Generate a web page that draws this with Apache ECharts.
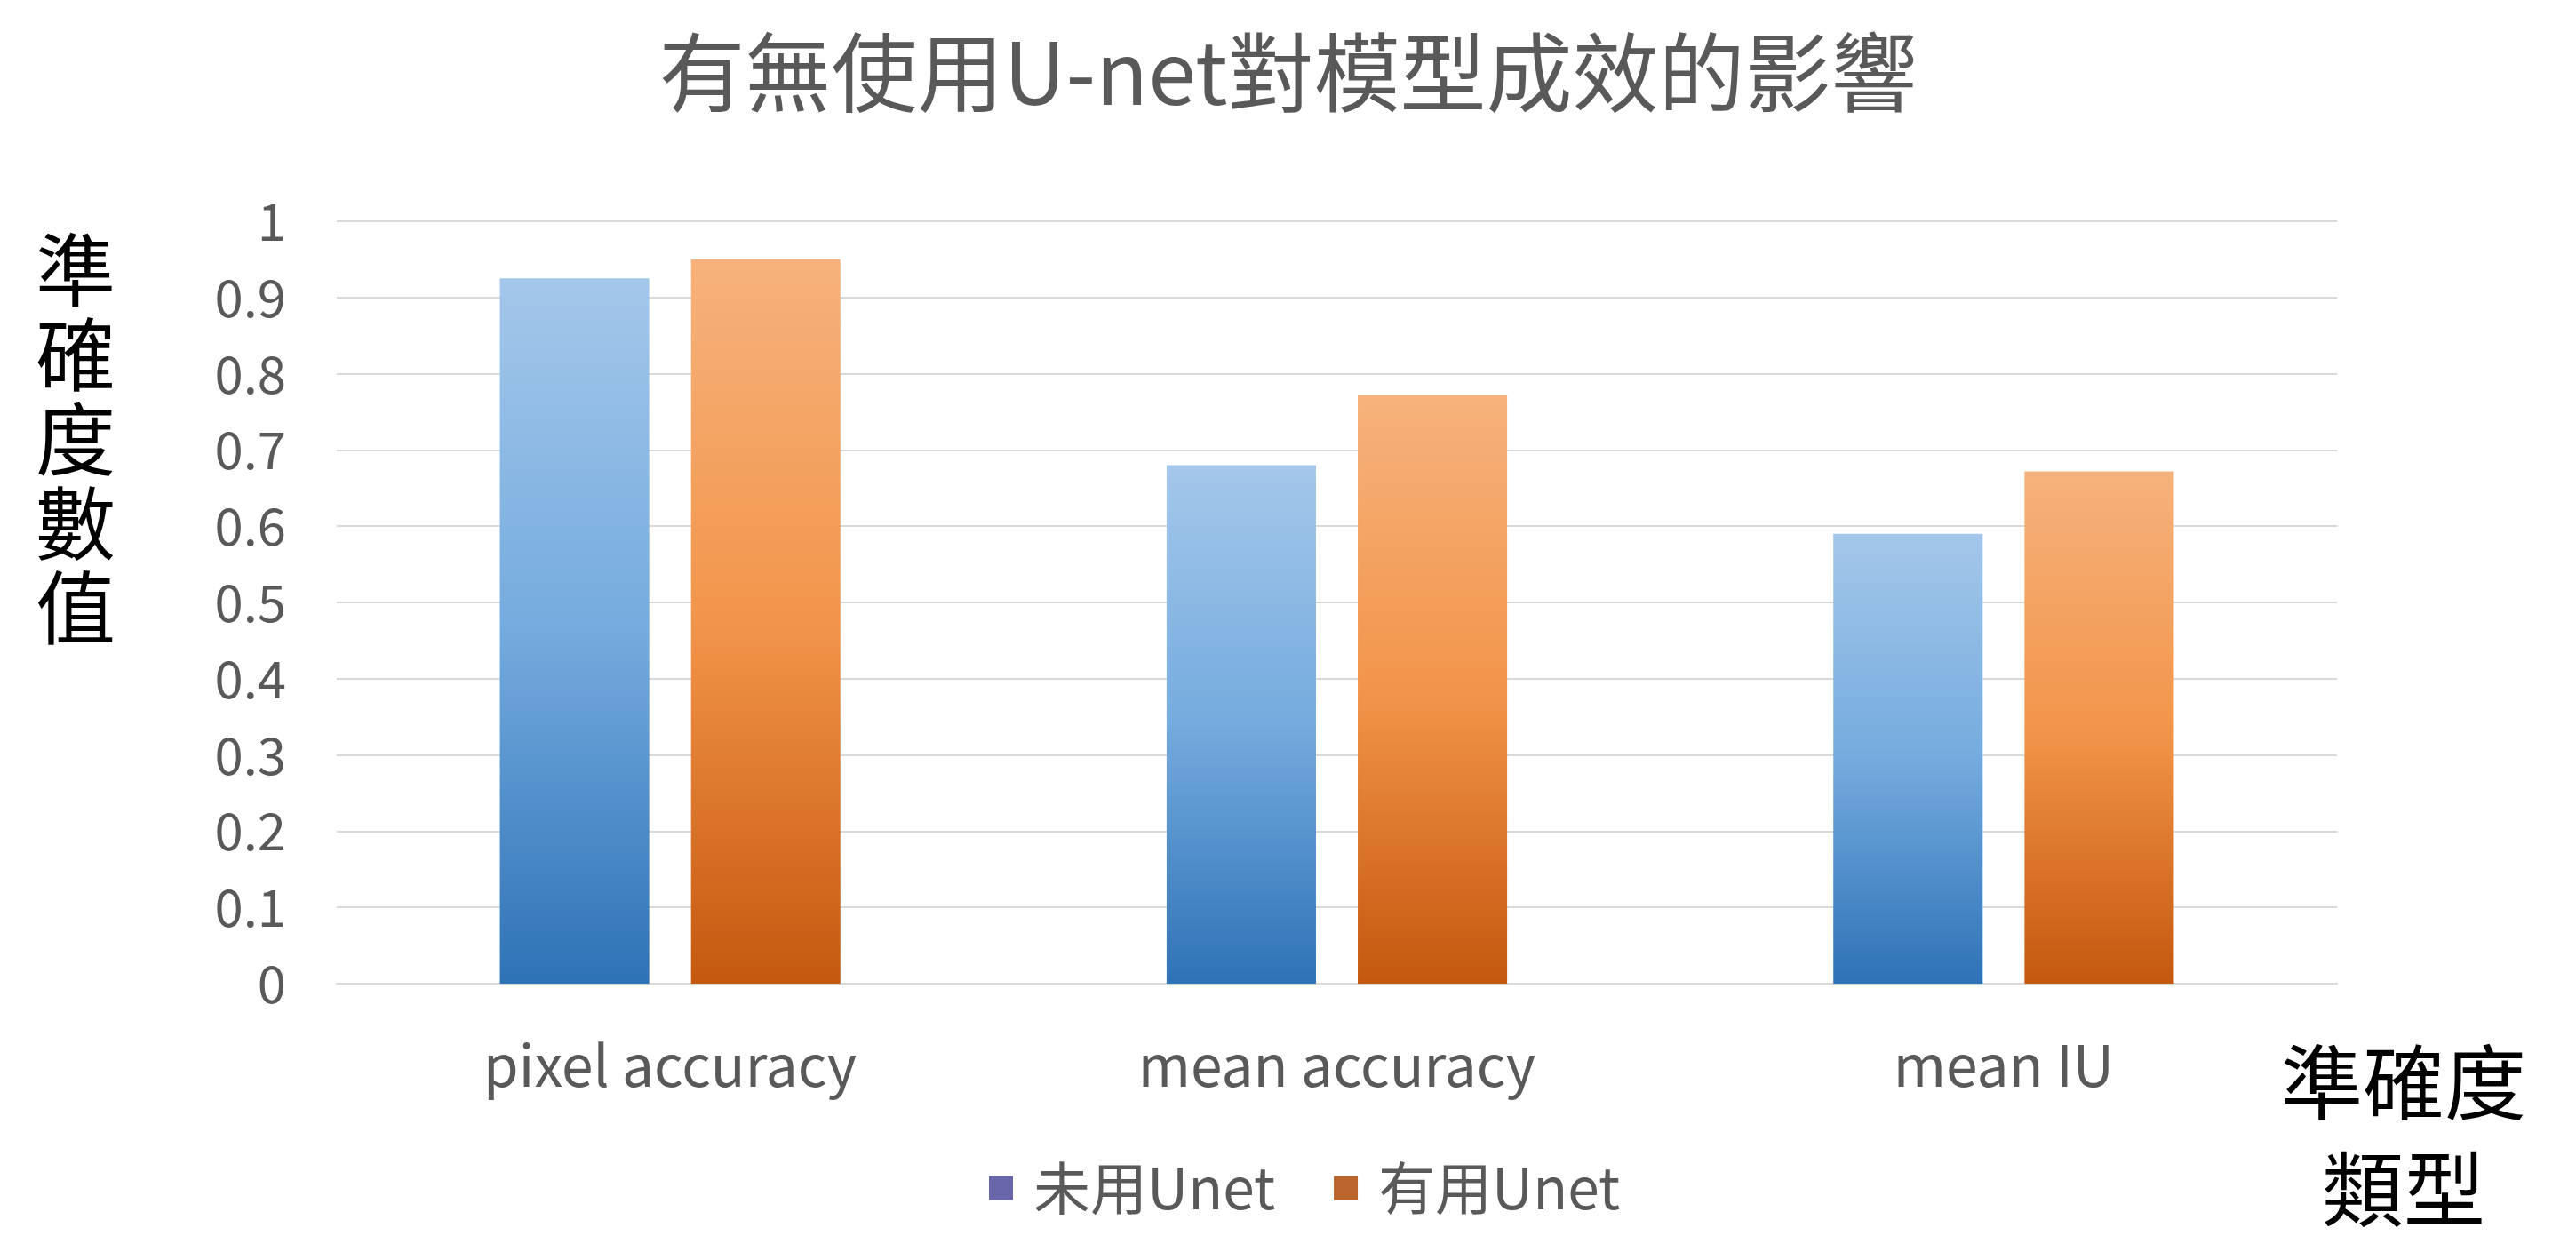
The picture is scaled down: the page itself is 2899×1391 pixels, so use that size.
<!DOCTYPE html>
<html>
<head>
<meta charset="utf-8">
<title>有無使用U-net對模型成效的影響</title>
<script src="https://cdn.jsdelivr.net/npm/echarts@6/dist/echarts.min.js"></script>
<style>
  html, body { margin: 0; padding: 0; background: #ffffff; }
  #chart { width: 2899px; height: 1391px; }
</style>
</head>
<body>
<div id="chart"></div>
<script>
// Accuracy metrics with and without U-net
const categories = ['pixel accuracy', 'mean accuracy', 'mean IU'];
const seriesNames = ['未用Unet', '有用Unet'];
const withoutUnet = [0.925, 0.68, 0.59];
const withUnet = [0.95, 0.772, 0.672];
const yTicks = ['0', '0.1', '0.2', '0.3', '0.4', '0.5', '0.6', '0.7', '0.8', '0.9', '1'];

const FONT = '"Noto Sans CJK TC", "Noto Sans", sans-serif';

function grad(top, mid, bottom) {
  return new echarts.graphic.LinearGradient(0, 0, 0, 1, [
    { offset: 0, color: top },
    { offset: 0.5, color: mid },
    { offset: 1, color: bottom }
  ]);
}

const chart = echarts.init(document.getElementById('chart'));
chart.setOption({
  backgroundColor: '#ffffff',
  animation: false,
  title: {
    text: '有無使用U-net對模型成效的影響',
    left: 'center',
    top: 28,
    textStyle: { fontFamily: FONT, fontSize: 97, fontWeight: 'normal', color: '#595959' }
  },
  legend: {
    data: [
      { name: seriesNames[0], itemStyle: { color: '#6a66ac' } },
      { name: seriesNames[1], itemStyle: { color: '#b9652b' } }
    ],
    icon: 'rect',
    itemWidth: 27,
    itemHeight: 27,
    itemGap: 66,
    left: 1108,
    top: 1300,
    textStyle: { fontFamily: FONT, fontSize: 64, color: '#595959', padding: [0, 0, 0, 18] }
  },
  grid: { left: 379, right: 269, top: 249, bottom: 284, containLabel: false },
  xAxis: {
    type: 'category',
    data: categories,
    axisLine: { show: true, lineStyle: { color: '#d9d9d9', width: 2 } },
    axisTick: { show: false },
    axisLabel: { fontFamily: FONT, fontSize: 64, color: '#595959', margin: 60 }
  },
  yAxis: {
    type: 'value',
    min: 0,
    max: 1,
    interval: 0.1,
    axisLine: { show: false },
    axisTick: { show: false },
    splitLine: { lineStyle: { color: '#d9d9d9', width: 2 } },
    axisLabel: {
      fontFamily: FONT,
      fontSize: 58,
      color: '#595959',
      margin: 57,
      formatter: function (v) { return yTicks[Math.round(v * 10)]; }
    }
  },
  series: [
    {
      name: seriesNames[0],
      type: 'bar',
      data: withoutUnet,
      barWidth: '22.4%',
      barGap: '28%',
      itemStyle: { color: grad('#a4c7ea', '#74abde', '#2e72b6') }
    },
    {
      name: seriesNames[1],
      type: 'bar',
      data: withUnet,
      barWidth: '22.4%',
      itemStyle: { color: grad('#f6b27c', '#f2954a', '#c4580f') }
    }
  ],
  graphic: [
    {
      type: 'text',
      x: 40,
      y: 256,
      style: {
        text: '準\n確\n度\n數\n值',
        font: '90px ' + FONT,
        lineHeight: 95,
        fill: '#000000'
      }
    },
    {
      type: 'text',
      x: 2705,
      y: 1158,
      style: {
        text: '準確度\n類型',
        font: '92px ' + FONT,
        lineHeight: 120,
        align: 'center',
        verticalAlign: 'top',
        fill: '#000000'
      }
    }
  ]
});
</script>
</body>
</html>
